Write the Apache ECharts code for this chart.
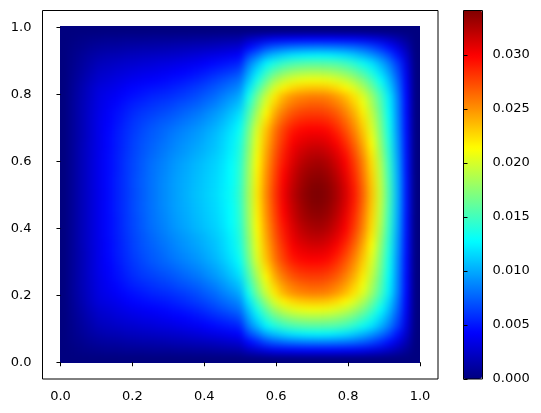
<!DOCTYPE html>
<html>
<head>
<meta charset="utf-8">
<script src="https://cdn.jsdelivr.net/npm/echarts@6/dist/echarts.min.js"></script>
<style>
  html, body { margin: 0; padding: 0; background: #fff; }
  #chart { width: 541px; height: 413px; }
  /* the heatmap has its own layer: soften the cell edges, then cut back to the data square */
  #chart canvas[data-zr-dom-id="zr_-1"] {
    filter: blur(3.5px);
    clip-path: inset(26.5px 121px 50.5px 60px);
  }
</style>
</head>
<body>
<div id="chart"></div>
<script>
// field values, in units of 1e-4
// one row per y = 0, 0.025 ... 0.5, one value per x = 0, 0.025 ... 1
// the picture is mirror symmetric about y = 0.5 so the upper rows reuse these
const lowerRows = [
  [0,0,0,0,0,0,0,0,0,0,0,0,0,0,0,0,0,0,0,0,0,0,0,0,0,0,0,0,0,0,0,0,0,0,0,0,0,0,0,0,0],
  [0,1,3,4,5,6,6,7,7,7,8,8,8,9,9,10,10,11,12,13,14,22,27,33,37,39,40,41,42,42,42,41,40,39,37,33,29,23,16,8,0],
  [0,3,5,8,10,11,12,13,14,15,15,16,17,18,19,20,21,22,24,26,28,44,54,66,73,78,81,83,84,85,84,83,81,78,73,66,57,46,32,17,0],
  [0,4,8,12,15,17,18,20,21,22,23,24,25,26,28,30,32,34,36,39,42,66,81,98,108,115,120,123,125,126,125,122,118,112,104,94,82,67,48,25,0],
  [0,5,10,15,20,22,24,26,27,29,30,32,33,35,37,39,42,45,48,51,55,85,105,125,138,147,153,156,158,158,157,155,150,142,132,120,104,85,62,32,0],
  [0,6,12,18,24,26,29,31,33,35,36,38,40,42,44,47,50,54,58,62,68,97,120,143,160,171,178,182,184,184,182,178,172,163,151,136,117,96,69,36,0],
  [0,7,14,21,27,30,33,36,38,40,42,44,46,48,51,54,58,63,68,74,80,108,135,160,182,195,203,207,209,209,207,202,195,184,170,152,130,106,76,39,0],
  [0,8,16,24,31,34,37,41,44,46,48,50,52,55,58,62,66,71,77,83,90,120,150,178,201,217,226,231,233,233,231,225,216,203,187,166,142,114,81,41,0],
  [0,9,17,25,33,37,41,45,48,51,54,56,58,61,64,68,73,78,85,92,100,133,166,195,220,238,249,254,256,256,254,247,236,222,203,180,153,122,86,43,0],
  [0,9,18,26,34,39,44,49,53,56,59,62,64,68,71,75,80,85,92,100,109,142,175,204,229,247,258,264,267,267,264,257,246,230,210,186,158,125,88,44,0],
  [0,9,18,27,35,41,47,52,57,61,64,67,70,74,78,82,87,93,99,108,118,151,185,214,240,258,270,276,278,278,275,268,255,239,218,193,163,128,89,44,0],
  [0,9,18,27,36,42,48,54,60,64,68,72,75,79,83,87,92,97,104,113,124,158,193,223,249,268,280,286,288,288,285,277,264,247,225,198,167,131,90,45,0],
  [0,9,18,27,36,43,50,56,62,67,72,76,80,84,88,92,97,102,109,118,130,165,201,232,258,277,290,296,298,298,295,286,272,254,231,203,170,133,91,45,0],
  [0,9,18,27,36,44,51,57,64,69,74,78,83,87,91,95,100,105,112,121,134,169,205,236,262,281,296,303,306,306,303,294,280,261,237,208,174,136,93,46,0],
  [0,9,19,28,36,44,51,58,65,71,76,81,85,90,94,98,103,107,114,123,137,172,208,239,265,285,301,309,313,314,310,301,287,268,243,214,178,139,95,46,0],
  [0,9,19,28,37,45,52,59,66,72,78,83,88,92,96,101,105,110,116,125,139,175,211,242,269,289,305,315,320,321,317,308,294,274,249,219,183,142,97,47,0],
  [0,9,19,28,37,45,52,60,67,74,80,85,90,95,99,104,108,112,118,127,141,177,214,245,272,292,309,320,326,328,324,314,300,280,255,224,187,145,99,47,0],
  [0,9,19,28,37,45,52,60,67,74,81,86,91,96,100,105,109,113,119,128,142,179,216,248,275,296,313,325,331,333,329,319,304,284,258,227,190,147,100,47,0],
  [0,9,19,28,37,45,53,60,68,75,81,87,92,97,101,106,110,114,120,128,143,180,218,250,277,299,316,328,335,337,333,323,308,287,261,230,192,149,101,48,0],
  [0,9,19,28,37,45,53,60,68,75,82,88,93,98,102,107,111,115,121,129,144,181,219,251,279,301,318,330,338,340,336,326,311,290,264,232,194,151,102,48,0],
  [0,9,19,28,37,45,53,60,68,75,82,88,93,98,103,108,112,116,122,130,145,182,220,252,280,302,320,332,339,341,337,327,312,291,265,233,195,152,103,48,0]
]
const valueScale = 1e-4
const colorMax = 0.0341
const axisTicks = [0, 0.2, 0.4, 0.6, 0.8, 1]
const colorbarTicks = [0, 0.005, 0.01, 0.015, 0.02, 0.025, 0.03]
const jetColors = ['#00007f', '#0000ff', '#007fff', '#00ffff', '#7fff7f', '#ffff00', '#ff7f00', '#ff0000', '#7f0000']

const rows = lowerRows.concat(lowerRows.slice(0, -1).reverse())
const cells = []
rows.forEach((row, j) => {
  row.forEach((v, i) => {
    cells.push([i, j, v * valueScale])
  })
})

const font = { color: '#000', fontFamily: 'DejaVu Sans', fontSize: 13 }

function plotAxis() {
  return {
    type: 'value',
    gridIndex: 1,
    min: -0.05,
    max: 1.05,
    splitLine: { show: false },
    axisLine: { show: false },
    axisTick: { show: true, length: 4, lineStyle: { color: '#000' }, customValues: axisTicks },
    axisLabel: Object.assign({ margin: 11, formatter: v => v.toFixed(1), customValues: axisTicks }, font)
  }
}

const chart = echarts.init(document.getElementById('chart'), null, { renderer: 'canvas' })
chart.setOption({
  animation: false,
  visualMap: {
    type: 'continuous',
    seriesIndex: 0,
    min: 0,
    max: colorMax,
    inRange: { color: jetColors },
    calculable: false,
    realtime: false,
    hoverLink: false,
    left: 463,
    top: 10,
    padding: 0,
    itemWidth: 19,
    itemHeight: 369,
    text: null,
    z: 1
  },
  grid: [
    { left: 60, top: 26.5, width: 360, height: 336, show: false },
    { left: 42.5, top: 10.5, width: 395.5, height: 368.5, show: true, borderColor: '#000', borderWidth: 1, backgroundColor: 'transparent' },
    { left: 463.5, top: 10.5, width: 19, height: 368.5, show: true, borderColor: '#000', borderWidth: 1, backgroundColor: 'transparent', z: 5 },
    // navy behind the heatmap so the blur does not fade to white at the edges
    { left: 43, top: 11, width: 395, height: 368, show: true, borderWidth: 0, backgroundColor: '#00007f', zlevel: -1, z: 0 }
  ],
  xAxis: [
    { type: 'category', gridIndex: 0, show: false, data: rows[0].map((v, i) => i) },
    plotAxis(),
    { type: 'value', gridIndex: 2, show: false, min: 0, max: 1 }
  ],
  yAxis: [
    { type: 'category', gridIndex: 0, show: false, data: rows.map((r, j) => j) },
    plotAxis(),
    {
      type: 'value',
      gridIndex: 2,
      position: 'right',
      min: 0,
      max: colorMax,
      z: 6,
      splitLine: { show: false },
      axisLine: { show: false },
      axisTick: { show: true, length: 4, lineStyle: { color: '#000' }, customValues: colorbarTicks },
      axisLabel: Object.assign({ margin: 10, formatter: v => v.toFixed(3), customValues: colorbarTicks }, font)
    }
  ],
  series: [{
    type: 'heatmap',
    xAxisIndex: 0,
    yAxisIndex: 0,
    zlevel: -1,
    progressive: 0,
    data: cells
  }]
})
</script>
</body>
</html>
